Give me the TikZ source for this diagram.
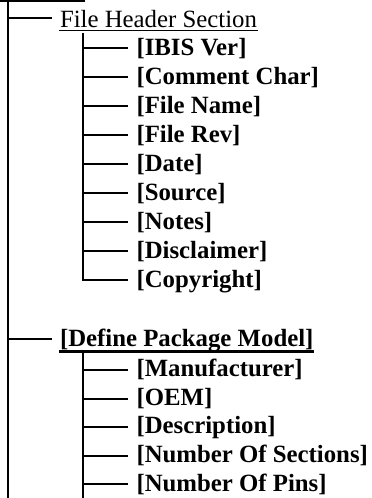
\documentclass[tikz,border=0pt]{standalone}
\usepackage{fontspec}
\setmainfont{Liberation Serif}
\begin{document}
\begin{tikzpicture}[x=1pt,y=-1pt,line width=2pt,
  item/.style={anchor=base west, inner sep=0pt, font=\fontsize{24.8}{29}\selectfont\bfseries},
  head/.style={anchor=base west, inner sep=0pt, font=\fontsize{24.8}{29}\selectfont},
  uline/.style={line width=1.6pt}]
\useasboundingbox (0,0) rectangle (372,498);
% remnant of the heading above (cut off)
\fill (0,0) rectangle (85,2);
% main trunk
\coordinate (t1) at (8,0);
\coordinate (b1) at (8,498);
\draw (t1) -- (b1);
% File Header Section
\node[head] (fhs) at (59,27) {File Header Section};
\draw[uline] ([yshift=-3.5pt]fhs.base west) -- ([yshift=-3.5pt]fhs.base east);
\path (fhs.base west) ++(0,-9) coordinate (fhs-b);
\draw (fhs-b -| t1) -- ([xshift=-7pt]fhs-b);
\coordinate (t2) at (83,33);
\foreach \n/\t [count=\i from 0] in {ibis/IBIS Ver, cc/Comment Char, fn/File Name, fr/File Rev, dt/Date, src/Source, nt/Notes, dis/Disclaimer, cr/Copyright}{
  \node[item] (\n) at (135.5,55+29*\i) {[\t]};
  \path (\n.base west) ++(0,-6.7) coordinate (\n-b);
  \draw (\n-b -| t2) -- ([xshift=-7.5pt]\n-b);
}
\draw (t2) -- ([yshift=-1pt]cr-b -| t2);
% Define Package Model
\node[item] (dpm) at (59,346) {[Define Package Model]};
\draw[line width=2.4pt] ([yshift=-5.5pt]dpm.base west) -- ([yshift=-5.5pt]dpm.base east);
\path (dpm.base west) ++(0,-7) coordinate (dpm-b);
\draw (dpm-b -| t1) -- ([xshift=-7pt]dpm-b);
\coordinate (t3) at (83,353);
\coordinate (b3) at (83,498);
\draw (t3) -- (b3);
\foreach \n/\t [count=\i from 0] in {mf/Manufacturer, oem/OEM, desc/Description, nos/Number Of Sections, nop/Number Of Pins}{
  \node[item] (\n) at (135.5,376.7+28.6*\i) {[\t]};
  \path (\n.base west) ++(0,-6.7) coordinate (\n-b);
  \draw (\n-b -| t3) -- ([xshift=-7.5pt]\n-b);
}
\end{tikzpicture}
\end{document}
